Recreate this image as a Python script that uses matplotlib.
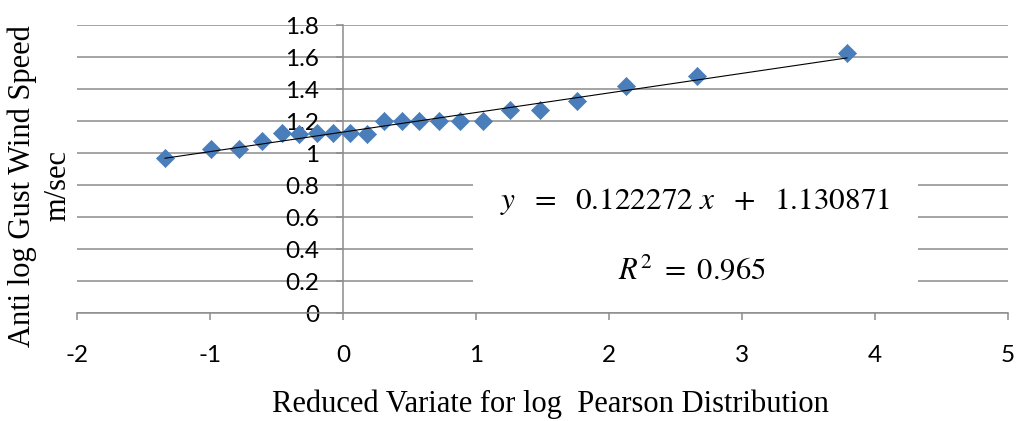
#!/usr/bin/env python3

from matplotlib import pyplot as plt
from matplotlib.patches import Rectangle
import numpy as np

# Reduced variate (x) and anti log gust wind speed (y)
reduced_variate = [-1.338, -0.992, -0.782, -0.609, -0.459, -0.331, -0.195, -0.075,
                   0.053, 0.180, 0.308, 0.444, 0.571, 0.722, 0.880, 1.053,
                   1.256, 1.481, 1.759, 2.128, 2.662, 3.789]
wind_speed = [0.97, 1.025, 1.025, 1.075, 1.125, 1.12, 1.125, 1.125,
              1.125, 1.12, 1.20, 1.20, 1.20, 1.20, 1.202, 1.20,
              1.27, 1.27, 1.325, 1.42, 1.48, 1.625]

slope = 0.122272
intercept = 1.130871
r_squared = 0.965

x_ticks = [-2, -1, 0, 1, 2, 3, 4, 5]
y_ticks = [0, 0.2, 0.4, 0.6, 0.8, 1, 1.2, 1.4, 1.6, 1.8]
y_tick_labels = ['0', '0.2', '0.4', '0.6', '0.8', '1', '1.2', '1.4', '1.6', '1.8']

plt.rcParams['mathtext.fontset'] = 'stix'
plt.rcParams['axes.unicode_minus'] = False
grey = '#8c8c8c'

fig = plt.figure(figsize=(10.16, 4.21), dpi=100)
ax = fig.add_axes([77 / 1016, 1 - 313 / 421, 931 / 1016, 288 / 421])

ax.set_xlim(-2, 5)
ax.set_ylim(0, 1.8)

# scatter + trend line
ax.scatter(reduced_variate, wind_speed, marker='D', s=85, color='#4a7ebb',
           edgecolors='#4a7ebb', linewidths=0.5, zorder=3)
xs = np.array([min(reduced_variate), max(reduced_variate)])
ax.plot(xs, slope * xs + intercept, color='black', linewidth=0.8, zorder=4)

# white box behind the equation (covers the gridlines)
ax.add_patch(Rectangle((0.977, 0.1), 3.35, 0.82, facecolor='white',
                       edgecolor='none', zorder=1.5))
ax.text(2.65, 0.70, r'$y\ \ =\ \ 0.122272\ x\ \ +\ \ 1.130871$' % (), fontsize=22.5,
        ha='center', va='center', zorder=5)
ax.text(2.62, 0.27, r'$R^2\ =\ %.3f$' % r_squared, fontsize=22,
        ha='center', va='center', zorder=5)

# axes crossing at zero, Excel style
for side in ['top', 'right']:
    ax.spines[side].set_visible(False)
ax.spines['left'].set_position(('data', 0))
ax.spines['left'].set_color(grey)
ax.spines['bottom'].set_color(grey)
ax.spines['left'].set_linewidth(1.1)
ax.spines['bottom'].set_linewidth(1.1)

ax.set_xticks(x_ticks)
ax.set_yticks(y_ticks)
ax.set_yticklabels(y_tick_labels)
ax.tick_params(axis='x', direction='out', length=5, width=1.1, color=grey,
               pad=18, labelsize=17.5)
ax.tick_params(axis='y', direction='out', length=5, width=1.1, color=grey,
               pad=12, labelsize=17.5)
for lab in ax.get_xticklabels() + ax.get_yticklabels():
    lab.set_fontfamily('Lato')

ax.yaxis.grid(True, color=grey, linewidth=1.1)
ax.set_axisbelow(True)

fig.text(40 / 1016, 1 - 186 / 421, 'Anti log Gust Wind Speed\nm/sec',
         family='Liberation Serif', fontsize=22, linespacing=1.25,
         rotation=90, ha='center', va='center', multialignment='center')
fig.text(550 / 1016, 1 - 412 / 421, 'Reduced Variate for log  Pearson Distribution',
         family='Liberation Serif', fontsize=22, ha='center', va='baseline')

plt.savefig('out.png', dpi=100)
